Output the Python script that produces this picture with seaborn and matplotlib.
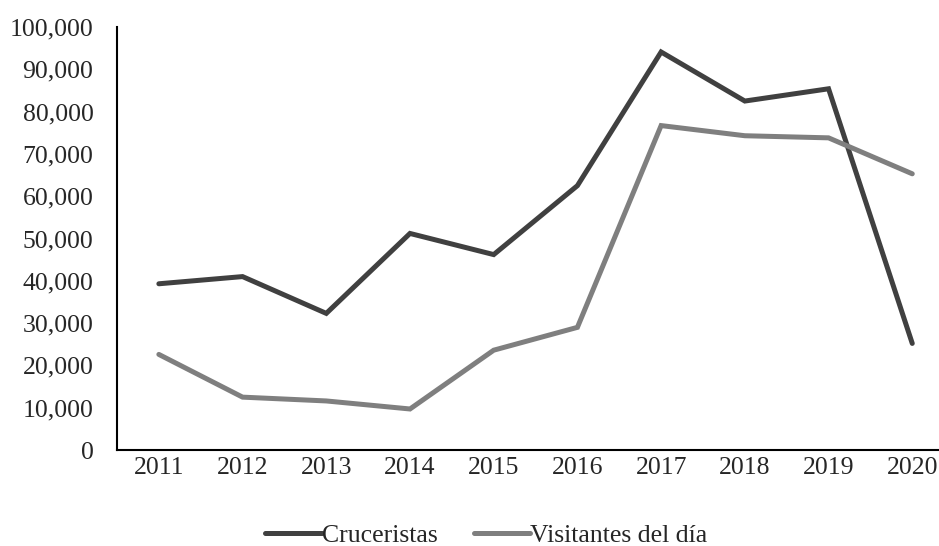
import numpy as np
import pandas as pd
import matplotlib.pyplot as plt
import seaborn as sns
from matplotlib.ticker import FuncFormatter

years = ["2011", "2012", "2013", "2014", "2015", "2016", "2017", "2018", "2019", "2020"]
cruceristas = [39300, 41000, 32300, 51200, 46200, 62500, 94100, 82500, 85400, 25200]
visitantes = [22600, 12500, 11600, 9700, 23600, 29000, 76700, 74300, 73800, 65300]

df = pd.DataFrame({
    "año": years * 2,
    "valor": cruceristas + visitantes,
    "serie": ["Cruceristas"] * len(years) + ["Visitantes del día"] * len(years),
})

sns.set_style("white")
plt.rcParams["font.family"] = ["Liberation Serif", "DejaVu Serif"]

fig = plt.figure(figsize=(9.39, 5.46), dpi=100)
ax = fig.add_axes([0.1246, 0.1758, 0.8915, 0.7747])

sns.lineplot(data=df, x="año", y="valor", hue="serie",
             palette=["#404040", "#7f7f7f"], linewidth=3.6, ax=ax, sort=False)
for ln in ax.get_lines():
    ln.set_solid_capstyle("round")
    ln.set_solid_joinstyle("miter")

ax.set_xlim(-0.5, 9.5)
ax.set_ylim(0, 100000)
ax.set_yticks(np.arange(0, 100001, 10000))
ax.yaxis.set_major_formatter(FuncFormatter(lambda v, p: f"{int(v):,}"))
ax.set_xlabel("")
ax.set_ylabel("")
ax.tick_params(axis="both", labelsize=18.5, length=0)
ax.tick_params(axis="x", pad=5)
ax.tick_params(axis="y", pad=17)
for s in ["top", "right"]:
    ax.spines[s].set_visible(False)
for s in ["left", "bottom"]:
    ax.spines[s].set_color("black")
    ax.spines[s].set_linewidth(1.5)

handles, labels = ax.get_legend_handles_labels()
ax.legend_.remove()
fig.legend(handles, labels, loc="center", bbox_to_anchor=(0.518, 0.019),
           ncol=2, frameon=False, fontsize=18.5, handlelength=2.2, handletextpad=0.0,
           columnspacing=1.4, borderaxespad=0, borderpad=0)

fig.savefig("out.png", dpi=100)
